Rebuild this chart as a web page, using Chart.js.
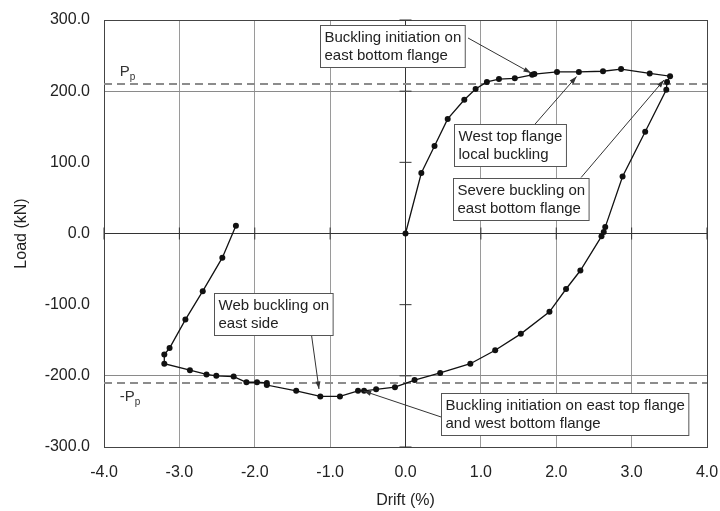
<!DOCTYPE html>
<html>
<head>
<meta charset="utf-8">
<script src="https://cdn.jsdelivr.net/npm/chart.js@4.4.1/dist/chart.umd.min.js"></script>
<style>
  html, body { margin: 0; padding: 0; background: #fff; }
</style>
</head>
<body>
<canvas id="grafico" width="720" height="511"></canvas>
<script>
// hysteresis loop
const drift = [0, 0.21, 0.385, 0.56, 0.78, 0.93, 1.08, 1.24, 1.45, 1.68, 1.71, 2.01, 2.30, 2.62, 2.86, 3.24, 3.51, 3.47, 3.46,
    3.18, 2.88, 2.65, 2.63, 2.60, 2.32, 2.13, 1.91, 1.53, 1.19, 0.86, 0.46, 0.12, -0.14, -0.39, -0.55, -0.63,
    -0.87, -1.13, -1.45, -1.84, -1.84, -1.97, -2.11, -2.28, -2.51, -2.64, -2.86, -3.20, -3.20, -3.13, -2.92, -2.69, -2.43, -2.25];
const load = [0, 85, 123, 161, 188, 203, 213, 217, 218, 223, 224, 227, 227, 228, 231, 225, 221, 213, 202,
    143, 80, 9, 2, -4, -52, -78, -110, -141, -164, -183, -196, -206, -216, -219, -221, -221,
    -229, -229, -221, -213, -210, -209, -209, -201, -200, -198, -192, -183, -170, -161, -121, -81, -34, 11];

const plasticLoad = 210;
const xTicks = [-4, -3, -2, -1, 0, 1, 2, 3, 4];
const yTicks = [-300, -200, -100, 0, 100, 200, 300];

// notes: box top-left, leader start and arrow tip, all in data units
const notas = [
    { linhas: ['Buckling initiation on', 'east bottom flange'], caixa: [-1.13, 293], de: [0.83, 274.7], ate: [1.665, 225.5] },
    { linhas: ['West top flange', 'local buckling'], caixa: [0.647, 153.9], de: [1.72, 153.9], ate: [2.27, 220.6] },
    { linhas: ['Severe buckling on', 'east bottom flange'], caixa: [0.63, 78.4], de: [2.33, 78.7], ate: [3.43, 215.7] },
    { linhas: ['Web buckling on', 'east side'], caixa: [-2.537, -83.2], de: [-1.247, -142.6], ate: [-1.148, -218.5] },
    { linhas: ['Buckling initiation on east top flange', 'and west bottom flange'], caixa: [0.471, -224.5], de: [0.471, -257.8], ate: [-0.557, -221.3] }
];
const rotulosP = [
    { sinal: '', pos: [-3.79, 221] },
    { sinal: '-', pos: [-3.79, -235] }
];

const FONTE = '"Liberation Sans", Arial, sans-serif';

function seta(ctx, x1, y1, x2, y2) {
    ctx.beginPath();
    ctx.moveTo(x1, y1);
    ctx.lineTo(x2, y2);
    ctx.stroke();
    const ang = Math.atan2(y2 - y1, x2 - x1);
    const len = 8, abre = 0.32;
    ctx.beginPath();
    ctx.moveTo(x2, y2);
    ctx.lineTo(x2 - len * Math.cos(ang - abre), y2 - len * Math.sin(ang - abre));
    ctx.lineTo(x2 - len * Math.cos(ang + abre), y2 - len * Math.sin(ang + abre));
    ctx.closePath();
    ctx.fill();
}

const notasPlugin = {
    id: 'notas',
    beforeDatasetsDraw(chart) {
        const ctx = chart.ctx;
        const sx = chart.scales.x, sy = chart.scales.y;
        const x0 = sx.getPixelForValue(0), y0 = sy.getPixelForValue(0);
        ctx.save();
        ctx.strokeStyle = '#333';
        ctx.lineWidth = 1;
        ctx.beginPath();
        yTicks.forEach(v => {
            const y = sy.getPixelForValue(v);
            ctx.moveTo(x0 - 6, y);
            ctx.lineTo(x0 + 6, y);
        });
        xTicks.forEach(v => {
            const x = sx.getPixelForValue(v);
            ctx.moveTo(x, y0 - 6);
            ctx.lineTo(x, y0 + 6);
        });
        ctx.stroke();
        ctx.restore();
    },
    afterDatasetsDraw(chart) {
        const ctx = chart.ctx;
        const sx = chart.scales.x, sy = chart.scales.y;
        ctx.save();

        // P_p labels
        ctx.fillStyle = '#333';
        rotulosP.forEach(r => {
            let x = sx.getPixelForValue(r.pos[0]);
            const y = sy.getPixelForValue(r.pos[1]);
            ctx.font = '15px ' + FONTE;
            ctx.textBaseline = 'alphabetic';
            ctx.textAlign = 'left';
            const txt = r.sinal + 'P';
            ctx.fillText(txt, x, y);
            x += ctx.measureText(txt).width;
            ctx.font = '10px ' + FONTE;
            ctx.fillText('p', x, y + 4);
        });

        // annotation boxes with leaders
        ctx.font = '15px ' + FONTE;
        ctx.textAlign = 'left';
        ctx.textBaseline = 'middle';
        notas.forEach(n => {
            ctx.strokeStyle = '#333';
            ctx.fillStyle = '#333';
            ctx.lineWidth = 1;
            seta(ctx, sx.getPixelForValue(n.de[0]), sy.getPixelForValue(n.de[1]),
                sx.getPixelForValue(n.ate[0]), sy.getPixelForValue(n.ate[1]));

            const bx = Math.round(sx.getPixelForValue(n.caixa[0])) + 0.5;
            const by = Math.round(sy.getPixelForValue(n.caixa[1])) + 0.5;
            const larg = Math.max(...n.linhas.map(l => ctx.measureText(l).width)) + 8;
            const alt = n.linhas.length * 18 + 6;
            ctx.fillStyle = '#fff';
            ctx.fillRect(bx, by, larg, alt);
            ctx.strokeStyle = '#555';
            ctx.strokeRect(bx, by, larg, alt);
            ctx.fillStyle = '#222';
            n.linhas.forEach((l, i) => ctx.fillText(l, bx + 4, by + 12 + i * 18));
        });
        ctx.restore();
    }
};

const corGradeX = c => {
    const v = c.tick.value;
    if (v === 0) return '#333';
    if (Math.abs(v) === 4) return '#444';
    return '#9a9a9a';
};
const corGradeY = c => {
    const v = c.tick.value;
    if (v === 0) return '#333';
    if (Math.abs(v) === 300) return '#444';
    if (Math.abs(v) === 200) return '#8a8a8a';
    return 'rgba(0,0,0,0)';
};

const ctx = document.getElementById('grafico').getContext('2d');
new Chart(ctx, {
    type: 'scatter',
    data: {
        datasets: [
            {
                label: 'Load',
                data: drift.map((d, i) => ({ x: d, y: load[i] })),
                showLine: true,
                borderColor: '#111',
                backgroundColor: '#111',
                borderWidth: 1.3,
                pointRadius: 3,
                pointBorderWidth: 0,
                tension: 0
            },
            {
                label: 'Pp',
                data: [{ x: -4, y: plasticLoad }, { x: 4, y: plasticLoad }],
                showLine: true,
                borderColor: '#8c8c8c',
                borderWidth: 2,
                borderDash: [8, 5],
                pointRadius: 0
            },
            {
                label: '-Pp',
                data: [{ x: -4, y: -plasticLoad }, { x: 4, y: -plasticLoad }],
                showLine: true,
                borderColor: '#8c8c8c',
                borderWidth: 2,
                borderDash: [8, 5],
                pointRadius: 0
            }
        ]
    },
    options: {
        responsive: false,
        animation: false,
        layout: { padding: { top: 20, right: 13, left: 0, bottom: 0 } },
        plugins: {
            legend: { display: false },
            tooltip: { enabled: false }
        },
        scales: {
            x: {
                type: 'linear',
                min: -4,
                max: 4,
                afterBuildTicks: s => { s.ticks = xTicks.map(v => ({ value: v })); },
                afterFit: s => { s.height = 64; s.paddingLeft = 0; s.paddingRight = 0; },
                grid: { color: corGradeX, drawTicks: false, lineWidth: 1 },
                border: { display: true, color: '#444' },
                ticks: {
                    padding: 16,
                    color: '#222',
                    font: { family: FONTE, size: 16 },
                    maxRotation: 0,
                    callback: v => v.toFixed(1)
                },
                title: {
                    display: true,
                    text: 'Drift (%)',
                    color: '#222',
                    font: { family: FONTE, size: 16 },
                    padding: { top: 1, bottom: 1 }
                }
            },
            y: {
                type: 'linear',
                min: -300,
                max: 300,
                afterBuildTicks: s => { s.ticks = yTicks.map(v => ({ value: v })); },
                afterFit: s => { s.width = 104; s.paddingTop = 0; s.paddingBottom = 0; },
                grid: { color: corGradeY, drawTicks: false, lineWidth: 1 },
                border: { display: true, color: '#444' },
                ticks: {
                    padding: 14,
                    color: '#222',
                    font: { family: FONTE, size: 16 },
                    callback: v => v.toFixed(1)
                },
                title: {
                    display: true,
                    text: 'Load (kN)',
                    color: '#222',
                    font: { family: FONTE, size: 16 },
                    padding: { top: 12, bottom: 12 }
                }
            }
        }
    },
    plugins: [notasPlugin]
});
</script>
</body>
</html>
